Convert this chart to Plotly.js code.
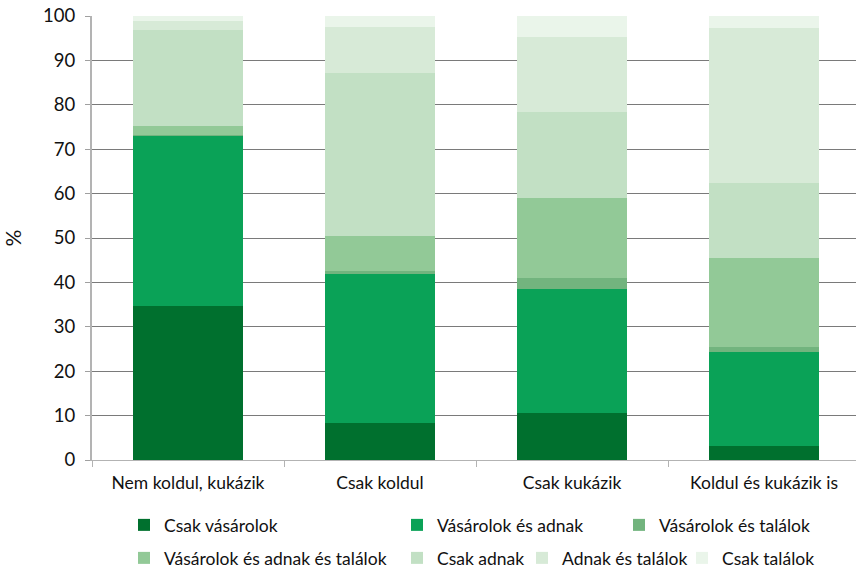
<!DOCTYPE html>
<html><head><meta charset="utf-8">
<script src="https://cdn.plot.ly/plotly-3.0.1.min.js"></script>
<style>html,body{margin:0;padding:0;overflow:hidden;background:#fff}</style>
</head><body><div id="chart"></div>
<script>
const categories = ["Nem koldul, kukázik", "Csak koldul", "Csak kukázik", "Koldul és kukázik is"];
const seriesNames = ["Csak vásárolok", "Vásárolok és adnak", "Vásárolok és találok",
  "Vásárolok és adnak és találok", "Csak adnak", "Adnak és találok", "Csak találok"];
const csakVasarolok = [34.7, 8.3, 10.5, 3.2];
const vasarolokEsAdnak = [38.2, 33.7, 28.1, 21.2];
const vasarolokEsTalalok = [0.3, 0.6, 2.5, 1.1];
const vasarolokAdnakTalalok = [2.1, 7.9, 17.8, 20.1];
const csakAdnak = [21.6, 36.7, 19.4, 16.9];
const adnakEsTalalok = [2.0, 10.4, 17.0, 34.7];
const csakTalalok = [1.1, 2.4, 4.7, 2.8];
const yTicks = [0, 10, 20, 30, 40, 50, 60, 70, 80, 90, 100];

const seriesValues = [csakVasarolok, vasarolokEsAdnak, vasarolokEsTalalok,
  vasarolokAdnakTalalok, csakAdnak, adnakEsTalalok, csakTalalok];
const colors = ["#00702e", "#0aa257", "#72b47e", "#92c997", "#c2e0c4", "#d7ead7", "#eaf5ea"];

const W = 860, H = 569, ML = 92, MR = 0, MT = 16, MB = 109;
const PW = W - ML - MR, PH = H - MT - MB;
// legend text start positions (px) and row centres (px)
const legendTextX = [164, 437, 659, 164, 437, 562, 722];
const legendRowY = [525, 525, 525, 558, 558, 558, 558];

const font = "Lato, 'Open Sans', sans-serif";
const traces = seriesValues.map((vals, i) => ({
  type: "bar", name: seriesNames[i], x: categories, y: vals,
  marker: {color: colors[i], line: {width: 0}},
  legend: i === 0 ? "legend" : "legend" + (i + 1),
  hoverinfo: "skip"
}));

const layout = {
  width: W, height: H,
  margin: {l: ML, r: MR, t: MT, b: MB, pad: 0, autoexpand: false},
  paper_bgcolor: "#fff", plot_bgcolor: "#fff",
  barmode: "stack", bargap: 0.43,
  font: {family: font, color: "#111", size: 17},
  xaxis: {
    type: "category", range: [-0.5, 3.5],
    showline: true, linecolor: "#b3b3b3", linewidth: 1,
    ticks: "outside", tickson: "boundaries", ticklen: 6, tickcolor: "#b3b3b3",
    showgrid: false, tickfont: {size: 17.5, family: font}, ticklabelstandoff: 7
  },
  yaxis: {
    range: [0, 100], tickvals: yTicks, ticktext: yTicks.map(String),
    showline: true, linecolor: "#b3b3b3", linewidth: 2,
    ticks: "outside", ticklen: 5, tickcolor: "#a0a0a0",
    showgrid: true, gridcolor: "#7a7a7a", gridwidth: 1, zeroline: false,
    tickfont: {size: 18.5, family: font}, ticklabelstandoff: 6,
    title: {text: "%", font: {size: 21, family: font}, standoff: 20}
  },
  showlegend: true
};
for (let i = 0; i < 7; i++) {
  const key = i === 0 ? "legend" : "legend" + (i + 1);
  layout[key] = {
    x: (legendTextX[i] - 40 - ML) / PW,
    y: (MT + PH - legendRowY[i]) / PH,
    xanchor: "left", yanchor: "middle",
    orientation: "h", bgcolor: "rgba(0,0,0,0)", borderwidth: 0,
    font: {size: 17.5, family: font, color: "#111"},
    itemclick: false, itemdoubleclick: false
  };
}
Plotly.newPlot("chart", traces, layout, {displayModeBar: false, staticPlot: true});
</script>
</body></html>
